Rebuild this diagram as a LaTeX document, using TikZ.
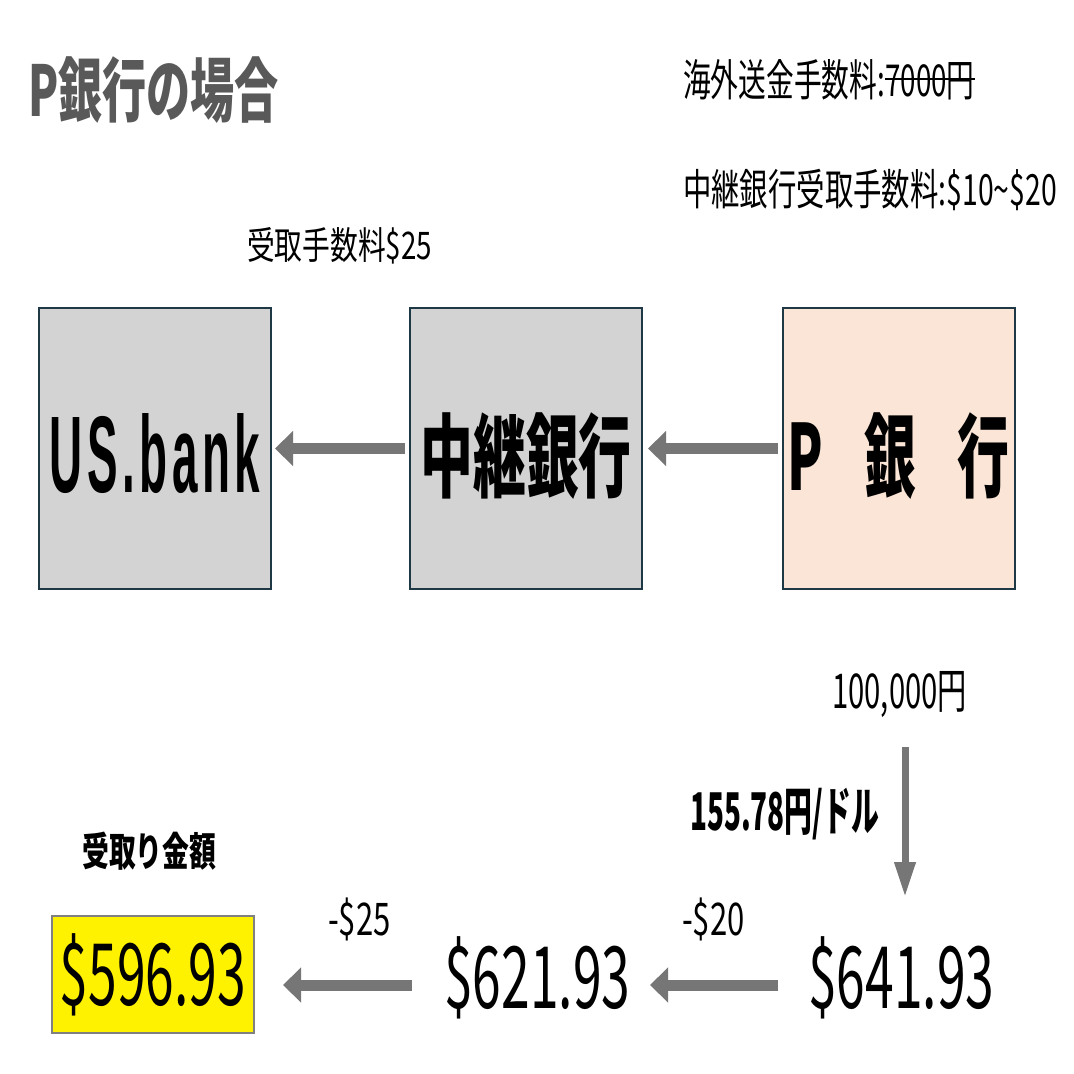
\documentclass[tikz,border=0pt]{standalone}
\usepackage{fontspec}
\usepackage{graphicx}
\setmainfont{Noto Sans CJK JP}
\newfontfamily\arialsp[LetterSpace=10]{Liberation Sans}
\usetikzlibrary{arrows.meta}
\definecolor{arrowgray}{HTML}{767676}
\definecolor{boxgray}{HTML}{D3D3D3}
\definecolor{peach}{HTML}{FBE5D6}
\definecolor{edgec}{HTML}{1F3845}
\definecolor{titlegray}{HTML}{595959}
\newcommand{\tx}[3]{\scalebox{#1}[1]{\fontsize{#2}{#2}\selectfont #3}}
\begin{document}
\begin{tikzpicture}[x=1pt,y=-1pt,
 lbl/.style={inner sep=0pt, anchor=base west},
 bankbox/.style={draw=edgec, line width=2pt, minimum width=232pt, minimum height=281pt, inner sep=0pt},
 blockarrow/.style={draw=arrowgray, line width=11pt, -{Triangle[length=18pt,width=34pt]}},
 vblock/.style={draw=arrowgray, line width=7pt, -{Triangle[length=35pt,width=20pt]}},
 resultbox/.style={draw=gray, line width=1.2pt, fill=yellow, minimum width=202pt, minimum height=117pt, inner sep=0pt},
]
\useasboundingbox (0,0) rectangle (1074,1074);
\fill[white] (0,0) rectangle (1074,1074);

% title and fee notes
\node[lbl, text=titlegray] (title) at (28,116) {\bfseries\tx{0.63}{70}{P銀行の場合}};
\node[lbl] (fee1) at (683,96) {\tx{0.63}{44}{海外送金手数料:}};
\node[lbl, anchor=base west] (fee1b) at (fee1.base east) {\tx{0.63}{44}{7000円}};
\draw[line width=2pt] ([yshift=17pt]fee1b.base west) -- ([yshift=17pt]fee1b.base east);
\node[lbl] (fee2) at (683,205) {\tx{0.66}{43}{中継銀行受取手数料:\$10\textasciitilde\$20}};
\node[lbl] (fee3) at (247,259) {\tx{0.73}{38}{受取手数料\$25}};

% banks
\node[bankbox, fill=boxgray] (us) at (155,448.5) {\raisebox{-44pt}[0pt][0pt]{\arialsp\bfseries\tx{0.42}{109}{US.bank}}};
\node[bankbox, fill=boxgray] (relay) at (526,448.5) {\raisebox{-42pt}[0pt][0pt]{\bfseries\tx{0.58}{91}{中継銀行}}};
\node[bankbox, fill=peach] (pbank) at (898.5,448.5) {\raisebox{-42pt}[0pt][0pt]{\bfseries\tx{0.57}{91}{P\hspace{0.8em}銀\hspace{0.8em}行}}};

\draw[blockarrow, shorten <=4pt, shorten >=3pt] (relay.west) -- (us.east);
\draw[blockarrow, shorten <=3.5pt, shorten >=5pt] (pbank.west) -- (relay.east);

% conversion
\node[lbl] (yen) at (832,708) {\tx{0.61}{48}{100,000円}};
\node[lbl] (rate) at (690,830) {\bfseries\tx{0.535}{52}{155.78円/ドル}};
\coordinate (v1) at (905,747);
\coordinate (v2) at (905,897);
\draw[vblock] (v1) -- (v2);

% amounts
\node[lbl] (recv) at (82,866) {\bfseries\tx{0.67}{40}{受取り金額}};
\node[lbl] (m25) at (328,935) {\tx{0.69}{45}{-\$25}};
\node[lbl] (m20) at (682,935) {\tx{0.69}{45}{-\$20}};
\node[lbl] (d641) at (808,1008) {\tx{0.6}{86}{\$641.93}};
\node[lbl] (d621) at (444,1008) {\tx{0.6}{86}{\$621.93}};
\node[resultbox] (final) at (153,974.5) {\tx{0.6}{86}{\$596.93}};

\coordinate (b1s) at (778,985);
\coordinate (b1e) at (650,985);
\coordinate (b2s) at (412,985);
\coordinate (b2e) at (283,985);
\draw[blockarrow] (b1s) -- (b1e);
\draw[blockarrow] (b2s) -- (b2e);
\end{tikzpicture}
\end{document}
